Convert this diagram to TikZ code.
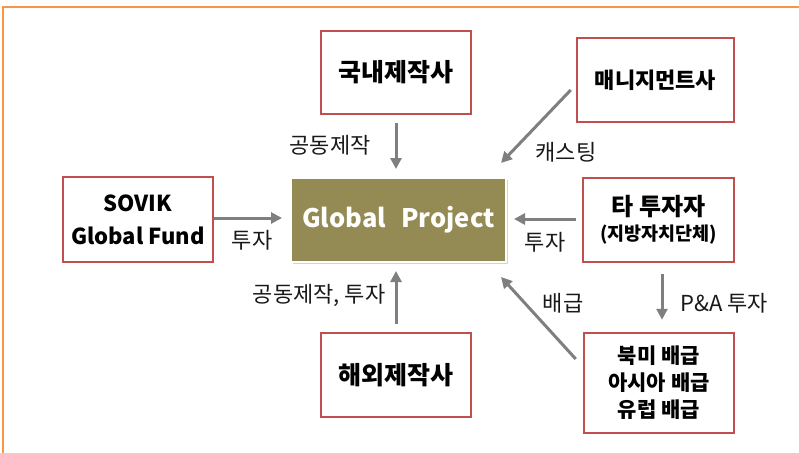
\documentclass[tikz,border=0pt]{standalone}
\usepackage{fontspec}
\setmainfont{Noto Sans CJK KR}
\usetikzlibrary{arrows.meta,calc,shadows}
\definecolor{redbox}{HTML}{C0504D}
\definecolor{olivebox}{HTML}{948A54}
\definecolor{framecol}{HTML}{F79646}
\definecolor{arrowcol}{HTML}{7F7F7F}
\tikzset{
  entity/.style={draw=redbox, line width=2.5pt, fill=white, inner sep=0pt, align=center, font=\bfseries\fontsize{25}{30}\selectfont},
  center box/.style={draw=white, line width=2pt, fill=olivebox, inner sep=0pt, text=white, font=\bfseries\fontsize{25.5}{30}\selectfont,
    drop shadow={opacity=0.35, shadow xshift=2pt, shadow yshift=-2pt}},
  flow/.style={draw=arrowcol, line width=3pt, -{Triangle[length=11pt,width=11pt]}},
  lbl/.style={text=black!90, inner sep=0pt, font=\fontsize{22}{26}\selectfont}
}
\begin{document}
\begin{tikzpicture}[x=1pt,y=-1pt]
\useasboundingbox (0,0) rectangle (799,452);
% frame
\draw[framecol, line width=2pt] (3,460) -- (3,7) -- (810,7);
% nodes
\node[center box, minimum width=215pt, minimum height=84pt] (gp) at (398.5,220) {Global\hspace{0.6em}Project};
\node[entity, minimum width=150pt, minimum height=83pt] (dom) at (396,72.5) {국내제작사};
\node[entity, minimum width=157pt, minimum height=84pt, font=\bfseries\fontsize{22}{26}\selectfont] (mgmt) at (655.5,80) {매니지먼트사};
\node[entity, minimum width=150pt, minimum height=85pt, font=\bfseries\fontsize{22}{33}\selectfont] (sovik) at (138,219.5) {SOVIK\\Global Fund};
\node[entity, minimum width=151pt, minimum height=84pt, font=\bfseries\fontsize{24}{28}\selectfont] (other) at (658.5,220) {타 투자자\\[-3pt]{\fontsize{18.5}{22}\selectfont(지방자치단체)}};
\node[entity, minimum width=150pt, minimum height=84pt] (ovs) at (396,375) {해외제작사};
\node[entity, minimum width=150pt, minimum height=100pt, font=\bfseries\fontsize{21}{27}\selectfont] (dist) at (659,383) {북미 배급\\아시아 배급\\유럽 배급};
% connectors
\draw[flow, shorten <=8pt, shorten >=8pt] (dom.south) -- (dom.south |- gp.north);
\draw[flow, shorten >=8pt] (sovik.east |- 0,218) -- (gp.west |- 0,218);
\draw[flow, shorten <=6pt, shorten >=7pt] (other.west |- 0,219) -- (gp.east |- 0,219);
\draw[flow, shorten <=8pt, shorten >=8pt] (ovs.north) -- (ovs.north |- gp.south);
\draw[flow] ($(mgmt.west)+(-5,10)$) -- ($(gp.north east)+(-6,-14)$);
\draw[flow] ($(dist.west)+(-7,-24)$) -- ($(gp.south east)+(-6,14)$);
\draw[flow, shorten <=11pt, shorten >=12pt] ([xshift=3.5pt]other.south) -- ([xshift=3pt]dist.north);
% labels
\node[lbl] (l1) at (330,145) {공동제작};
\node[lbl] (l2) at (566,152) {캐스팅};
\node[lbl] (l3) at (252,240) {투자};
\node[lbl] (l4) at (545,242) {투자};
\node[lbl] (l5) at (319,295) {공동제작, 투자};
\node[lbl] (l6) at (563,303) {배급};
\node[lbl] (l7) at (724,303) {P\&A 투자};
\end{tikzpicture}
\end{document}
